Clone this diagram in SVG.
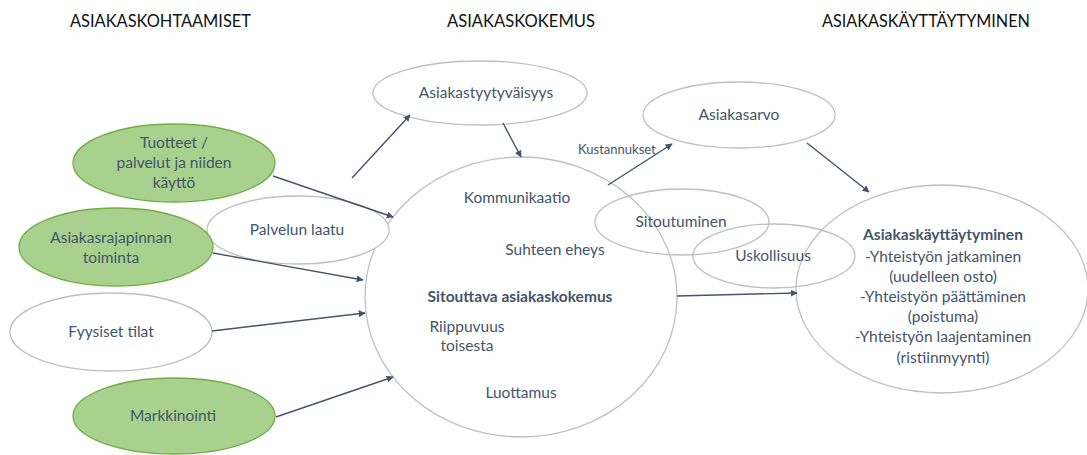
<svg xmlns="http://www.w3.org/2000/svg" width="1087" height="455" viewBox="0 0 1087 455">
  <defs>
    <marker id="arr" viewBox="0 0 10 10" refX="9" refY="5" markerWidth="7" markerHeight="7" markerUnits="userSpaceOnUse" orient="auto">
      <path d="M0,0 L10,5 L0,10 z" fill="#44546a"/>
    </marker>
    <style>
      .hdr { font-family: Lato, "Liberation Sans", sans-serif; font-size: 17px; fill: #111; }
      .t { font-family: Lato, "Open Sans", sans-serif; font-size: 15.5px; fill: #44546a; text-anchor: middle; }
      .b { font-weight: bold; }
      .plain { fill: #fff; stroke: #bfbfbf; stroke-width: 1.3; }
      .open { fill: none; stroke: #bfbfbf; stroke-width: 1.3; }
      .green { fill: #a9d18e; stroke: #70ad47; stroke-width: 1.3; }
      .c { stroke: #44546a; stroke-width: 1.4; fill: none; marker-end: url(#arr); }
      .lbl { font-family: Lato, "Open Sans", sans-serif; font-size: 13px; fill: #44546a; }
    </style>
  </defs>
  <rect width="1087" height="455" fill="#fff"/>

  <!-- column headings -->
  <text class="hdr" x="70" y="27" textLength="181" lengthAdjust="spacingAndGlyphs">ASIAKASKOHTAAMISET</text>
  <text class="hdr" x="447" y="27" textLength="148" lengthAdjust="spacingAndGlyphs">ASIAKASKOKEMUS</text>
  <text class="hdr" x="822" y="27" textLength="208" lengthAdjust="spacingAndGlyphs">ASIAKASKÄYTTÄYTYMINEN</text>

  <!-- central experience circle -->
  <g id="kokemus">
    <ellipse class="plain" cx="521" cy="297" rx="156" ry="140"/>
  </g>

  <!-- right-hand behaviour ellipse -->
  <g id="kayttaytyminen">
    <ellipse class="plain" cx="942" cy="289" rx="146" ry="104"/>
  </g>

  <g id="tyytyvaisyys">
    <ellipse class="plain" cx="480" cy="93" rx="107" ry="32"/>
    <text class="t" x="486" y="98">Asiakastyytyväisyys</text>
  </g>

  <g id="asiakasarvo">
    <ellipse class="plain" cx="739" cy="115" rx="96" ry="33"/>
    <text class="t" x="739" y="120">Asiakasarvo</text>
  </g>

  <g id="tuotteet">
    <ellipse class="green" cx="174" cy="163" rx="101" ry="39"/>
    <text class="t" x="174" y="148">Tuotteet /</text>
    <text class="t" x="174" y="168">palvelut ja niiden</text>
    <text class="t" x="174" y="188">käyttö</text>
  </g>

  <g id="palvelun-laatu">
    <ellipse class="plain" cx="298" cy="230" rx="91" ry="34"/>
    <text class="t" x="297" y="235">Palvelun laatu</text>
  </g>

  <g id="asiakasrajapinta">
    <ellipse class="green" cx="116" cy="247" rx="97" ry="39"/>
    <text class="t" x="111" y="243">Asiakasrajapinnan</text>
    <text class="t" x="111" y="263">toiminta</text>
  </g>

  <g id="fyysiset-tilat">
    <ellipse class="plain" cx="111" cy="332" rx="101" ry="39"/>
    <text class="t" x="111" y="337">Fyysiset tilat</text>
  </g>

  <g id="markkinointi">
    <ellipse class="green" cx="174" cy="416" rx="101" ry="38"/>
    <text class="t" x="173" y="421">Markkinointi</text>
  </g>

  <g id="sitoutuminen">
    <ellipse class="open" cx="682" cy="222" rx="87" ry="33"/>
    <text class="t" x="681" y="227">Sitoutuminen</text>
  </g>

  <g id="uskollisuus">
    <ellipse class="open" cx="774" cy="256" rx="81" ry="32"/>
    <text class="t" x="773" y="261">Uskollisuus</text>
  </g>

  <!-- labels inside the central circle -->
  <g id="kokemus-labels">
    <text class="t" x="517" y="203">Kommunikaatio</text>
    <text class="t" x="555" y="255">Suhteen eheys</text>
    <text class="t b" x="520" y="302">Sitouttava asiakaskokemus</text>
    <text class="t" x="467" y="332">Riippuvuus</text>
    <text class="t" x="467" y="351">toisesta</text>
    <text class="t" x="521" y="398">Luottamus</text>
  </g>

  <!-- labels inside the behaviour ellipse -->
  <g id="kayttaytyminen-labels">
    <text class="t b" x="943" y="240">Asiakaskäyttäytyminen</text>
    <text class="t" x="943" y="262">-Yhteistyön jatkaminen</text>
    <text class="t" x="943" y="282">(uudelleen osto)</text>
    <text class="t" x="943" y="302">-Yhteistyön päättäminen</text>
    <text class="t" x="943" y="322">(poistuma)</text>
    <text class="t" x="943" y="342">-Yhteistyön laajentaminen</text>
    <text class="t" x="943" y="363">(ristiinmyynti)</text>
  </g>

  <!-- connectors -->
  <g id="connectors">
    <line class="c" x1="352" y1="178" x2="410" y2="115"/>
    <line class="c" x1="503" y1="123" x2="521" y2="157"/>
    <line class="c" x1="608" y1="185" x2="672" y2="144"/>
    <text class="lbl" x="578" y="154">Kustannukset</text>
    <line class="c" x1="807" y1="143" x2="869" y2="192"/>
    <line class="c" x1="273" y1="176" x2="393" y2="217"/>
    <line class="c" x1="213" y1="253" x2="363" y2="280"/>
    <line class="c" x1="212" y1="331" x2="365" y2="313"/>
    <line class="c" x1="276" y1="417" x2="393" y2="377"/>
    <line class="c" x1="677" y1="296" x2="797" y2="293"/>
  </g>
</svg>
